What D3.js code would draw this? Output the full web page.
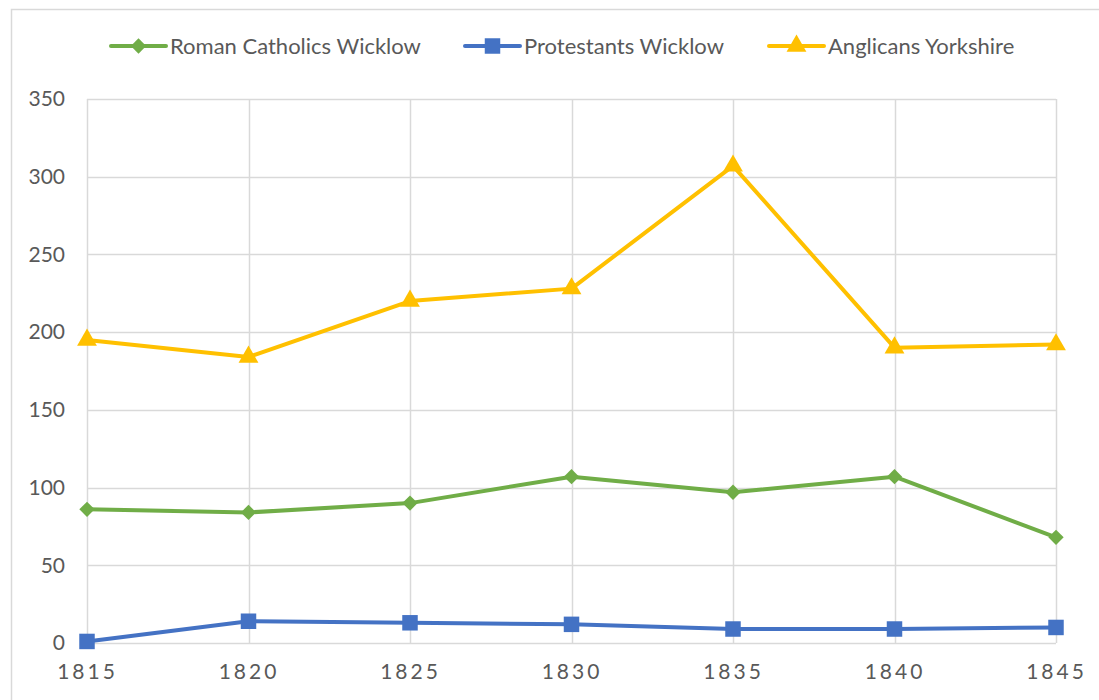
<!DOCTYPE html>
<html>
<head>
<meta charset="utf-8">
<script src="https://cdn.jsdelivr.net/npm/d3@7"></script>
<style>
  body { margin: 0; background: #fff; }
  text { font-family: Lato, "Open Sans", sans-serif; fill: #595959; }
</style>
</head>
<body>
<div id="chart"></div>
<script>
// data
const years = [1815, 1820, 1825, 1830, 1835, 1840, 1845];
const catholicsWicklow = [86, 84, 90, 107, 97, 107, 68];
const protestantsWicklow = [1, 14, 13, 12, 9, 9, 10];
const anglicansYorkshire = [195, 184, 220, 228, 307, 190, 192];
const yTicks = [0, 50, 100, 150, 200, 250, 300, 350];

const series = [
    {name: "Roman Catholics Wicklow", values: catholicsWicklow, color: "#70ad47", symbol: d3.symbolDiamond2, size: 150},
    {name: "Protestants Wicklow", values: protestantsWicklow, color: "#4472c4", symbol: d3.symbolSquare, size: 240},
    {name: "Anglicans Yorkshire", values: anglicansYorkshire, color: "#ffc000", symbol: d3.symbolTriangle, size: 170},
];

const width = 1099, height = 700;
const margin = {top: 99, right: 43, bottom: 57, left: 87};
const plotW = width - margin.left - margin.right;
const plotH = height - margin.top - margin.bottom;

var svg = d3.select("#chart")
    .append("svg")
        .attr("width", width)
        .attr("height", height);

// chart area border (runs off the right and bottom edge)
svg.append("rect")
    .attr("x", 11.5).attr("y", 9.5)
    .attr("width", 1200).attr("height", 800)
    .attr("fill", "none")
    .attr("stroke", "#d9d9d9")
    .attr("stroke-width", 1.5);

var g = svg.append("g")
    .attr("transform", `translate(${margin.left}, ${margin.top})`);

var xScale = d3.scalePoint()
    .domain(years)
    .range([0, plotW]);

var yScale = d3.scaleLinear()
    .domain([0, 350])
    .range([plotH, 0]);

//gridlines
g.append("g")
    .selectAll("line")
    .data(yTicks)
    .join("line")
    .attr("x1", 0).attr("x2", plotW)
    .attr("y1", d => Math.round(yScale(d)) + 0.5)
    .attr("y2", d => Math.round(yScale(d)) + 0.5)
    .attr("stroke", "#d9d9d9")
    .attr("stroke-width", 1.5);

g.append("g")
    .selectAll("line")
    .data(years)
    .join("line")
    .attr("x1", d => Math.round(xScale(d)) + 0.5)
    .attr("x2", d => Math.round(xScale(d)) + 0.5)
    .attr("y1", 0).attr("y2", plotH)
    .attr("stroke", "#d9d9d9")
    .attr("stroke-width", 1.5);

//y axis labels
var yAxis = g.append("g")
    .call(d3.axisLeft(yScale).tickValues(yTicks).tickSize(0).tickPadding(22));
yAxis.select(".domain").remove();
yAxis.selectAll("text")
    .style("font-size", "21px")
    .attr("fill", "#595959");

//x axis labels
var xAxis = g.append("g")
    .attr("transform", `translate(0, ${plotH})`)
    .call(d3.axisBottom(xScale).tickSize(0).tickPadding(21));
xAxis.select(".domain").remove();
xAxis.selectAll("text")
    .style("font-size", "21px")
    .style("letter-spacing", "3px")
    .attr("fill", "#595959");

//lines and markers
series.forEach(s => {
    g.append("path")
        .datum(s.values)
        .attr("fill", "none")
        .attr("stroke", s.color)
        .attr("stroke-width", 4)
        .attr("stroke-linejoin", "round")
        .attr("d", d3.line()
            .x((d, i) => xScale(years[i]))
            .y(d => yScale(d)));

    g.selectAll(null)
        .data(s.values)
        .join("path")
        .attr("transform", (d, i) => `translate(${xScale(years[i])}, ${yScale(d)})`)
        .attr("d", d3.symbol().type(s.symbol).size(s.size))
        .attr("fill", s.color);
});

//legend
const legendX = [111, 465, 769];
var legend = svg.append("g");
series.forEach((s, i) => {
    var item = legend.append("g")
        .attr("transform", `translate(${legendX[i]}, 46)`);
    item.append("line")
        .attr("x1", 0).attr("x2", 55)
        .attr("stroke", s.color)
        .attr("stroke-width", 4)
        .attr("stroke-linecap", "round");
    item.append("path")
        .attr("transform", `translate(27.5, 0)`)
        .attr("d", d3.symbol().type(s.symbol).size(s.size))
        .attr("fill", s.color);
    item.append("text")
        .attr("x", 59)
        .attr("dy", "0.35em")
        .style("font-size", "22px")
        .text(s.name);
});
</script>
</body>
</html>
